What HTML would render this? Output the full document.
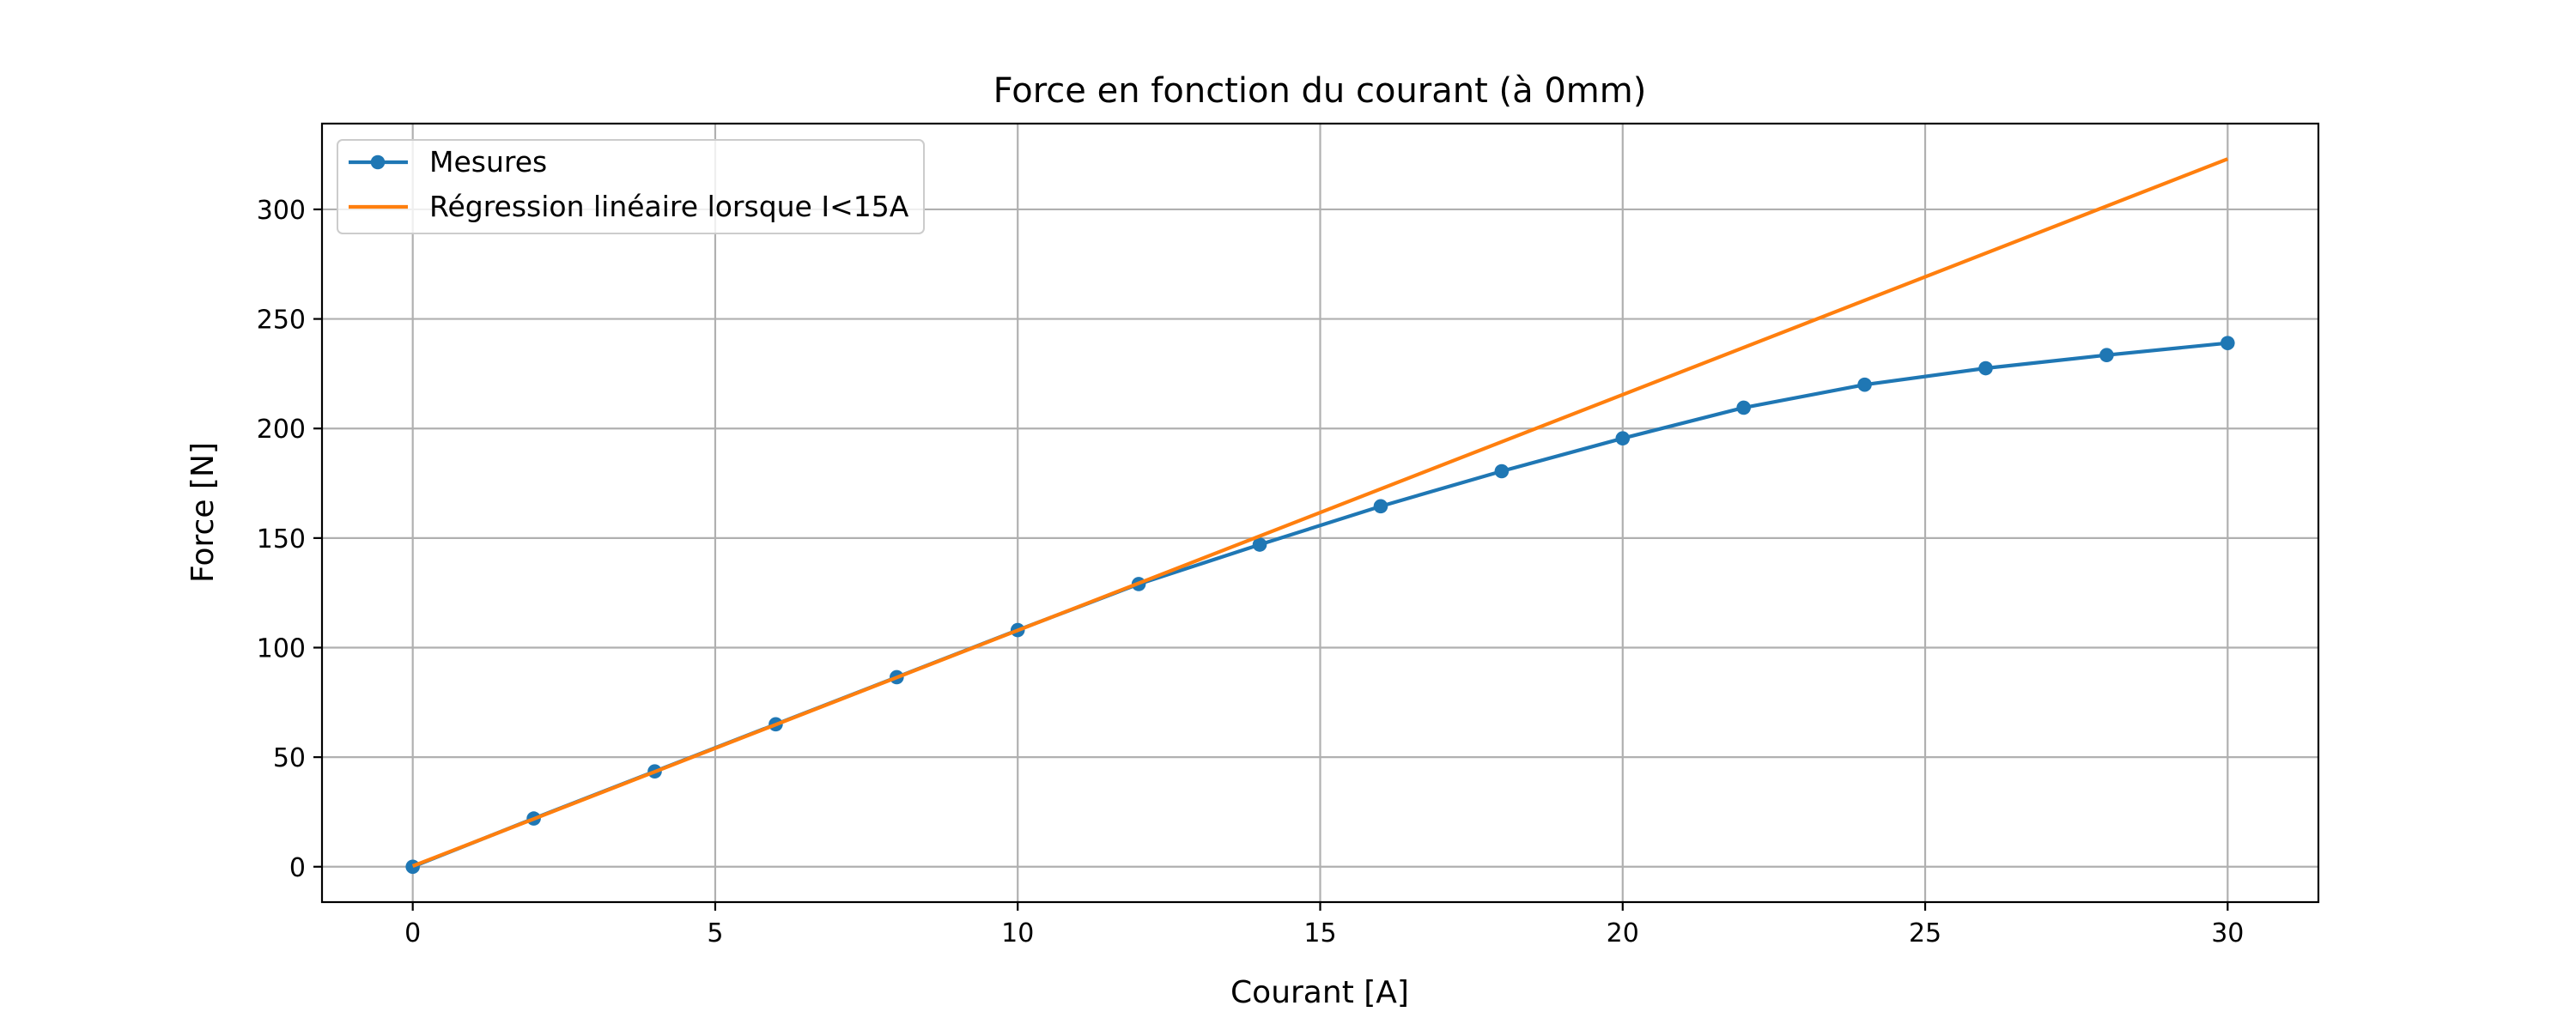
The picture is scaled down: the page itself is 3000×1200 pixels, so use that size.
<!DOCTYPE html>
<html><head><meta charset="utf-8"><style>
html,body{margin:0;padding:0;background:#fff;}
svg{display:block;font-family:"DejaVu Sans","Liberation Sans",sans-serif;}
</style></head><body>
<svg id="chart" width="3000" height="1200" viewBox="0 0 3000 1200" xmlns="http://www.w3.org/2000/svg">
<rect width="3000" height="1200" fill="#fff"/>
<text x="1537" y="119" font-size="40" text-anchor="middle">Force en fonction du courant (à 0mm)</text>
<g id="grid"></g>
<g id="series"></g>
<rect x="375" y="144" width="2325" height="907" fill="none" stroke="#000" stroke-width="2.2"/>
<g id="ticks"></g>
<text x="1537" y="1168" font-size="36" text-anchor="middle">Courant [A]</text>
<text x="0" y="0" font-size="36" text-anchor="middle" transform="translate(248,597) rotate(-90)">Force [N]</text>
<g>
<rect x="393" y="163" width="683" height="109" rx="6" fill="#fff" fill-opacity="0.8" stroke="#ccc" stroke-width="2"/>
<line x1="406" y1="189" x2="475" y2="189" stroke="#1f77b4" stroke-width="4.2"/>
<circle cx="440" cy="189" r="8.3" fill="#1f77b4"/>
<text x="500" y="200" font-size="33">Mesures</text>
<line x1="406" y1="241" x2="475" y2="241" stroke="#ff7f0e" stroke-width="4.2"/>
<text x="500" y="252" font-size="33">Régression linéaire lorsque I&lt;15A</text>
</g>
</svg>
<script>
const currents = [0,2,4,6,8,10,12,14,16,18,20,22,24,26,28,30];
const forces = [0,22,43.5,65,86.5,108,129,147,164.5,180.5,195.5,209.5,220,227.5,233.5,239];
const regX = [0,30];
const regY = [0.3,323];
const xTicks = [0,5,10,15,20,25,30];
const yTicks = [0,50,100,150,200,250,300];
const NS='http://www.w3.org/2000/svg';
const X0=375,X1=2700,Y0=1051,Y1=144, xmin=-1.5,xmax=31.5,ymin=-16.15,ymax=339.15;
function xs(v){return X0+(v-xmin)/(xmax-xmin)*(X1-X0);}
function ys(v){return Y0-(v-ymin)/(ymax-ymin)*(Y0-Y1);}
function mk(tag,attrs,parent){const e=document.createElementNS(NS,tag);for(const k in attrs)e.setAttribute(k,attrs[k]);parent.appendChild(e);return e;}
const grid=document.getElementById('grid'),ticks=document.getElementById('ticks'),series=document.getElementById('series');
xTicks.forEach(t=>{
  const g=mk('line',{x1:xs(t),x2:xs(t),y1:Y1,y2:Y0,stroke:'#b0b0b0','stroke-width':2.2},grid);
  
  
  const tk=mk('line',{x1:xs(t),x2:xs(t),y1:Y0,y2:Y0+10,stroke:'#000','stroke-width':2.2},ticks);
  
  
  const lb=mk('text',{x:xs(t),y:Y0+46,'font-size':30,'text-anchor':'middle'},ticks);
  lb.textContent=t;
  
  
});
yTicks.forEach(t=>{
  const g=mk('line',{x1:X0,x2:X1,y1:ys(t),y2:ys(t),stroke:'#b0b0b0','stroke-width':2.2},grid);
  
  
  const tk=mk('line',{x1:X0-10,x2:X0,y1:ys(t),y2:ys(t),stroke:'#000','stroke-width':2.2},ticks);
  
  
  const lb=mk('text',{x:X0-19,y:ys(t)+11,'font-size':30,'text-anchor':'end'},ticks);
  lb.textContent=t;
  
  
});
const pts=currents.map((c,i)=>xs(c)+','+ys(forces[i])).join(' ');
const pl=mk('polyline',{points:pts,fill:'none',stroke:'#1f77b4','stroke-width':4.2,'stroke-linejoin':'round'},series);


currents.forEach((c,i)=>{
  const m=mk('circle',{cx:xs(c),cy:ys(forces[i]),r:8.3,fill:'#1f77b4'},series);
  
  
});
const rl=mk('polyline',{points:regX.map((x,i)=>xs(x)+','+ys(regY[i])).join(' '),fill:'none',stroke:'#ff7f0e','stroke-width':4.2},series);


</script>
</body></html>
